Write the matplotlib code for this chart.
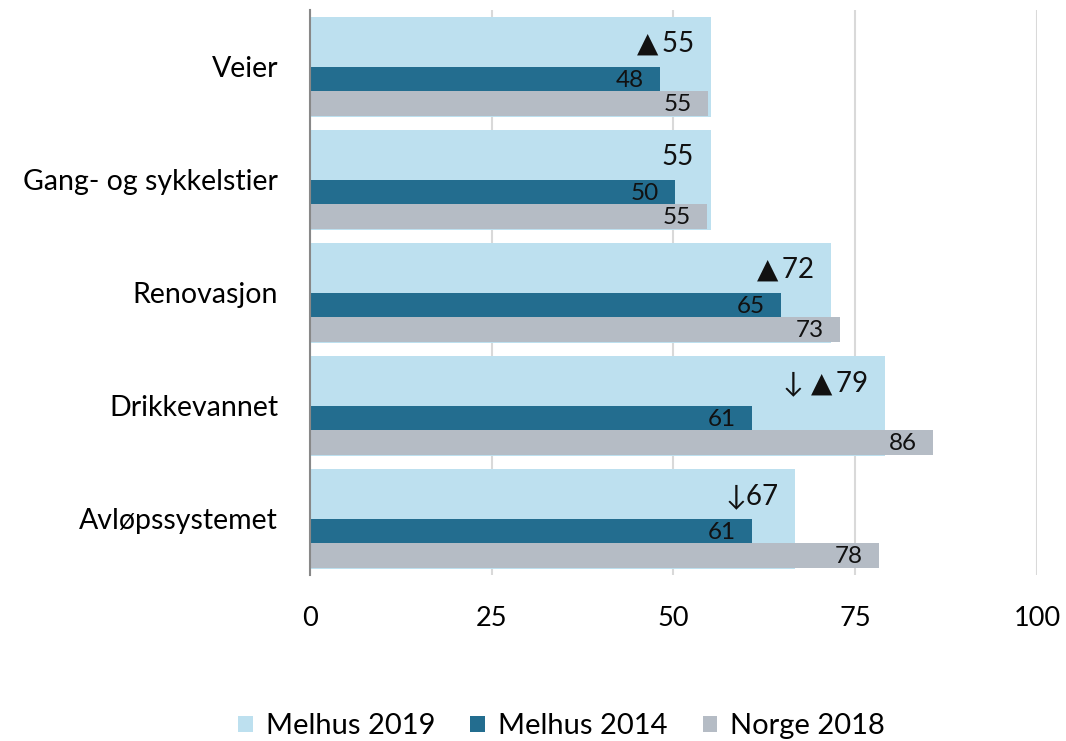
import matplotlib.pyplot as plt
import numpy as np

plt.rcParams['font.family'] = ['Lato', 'DejaVu Sans']

categories = ['Veier', 'Gang- og sykkelstier', 'Renovasjon', 'Drikkevannet', 'Avløpssystemet']
melhus_2019 = [55.2, 55.1, 71.6, 79.1, 66.7]
melhus_2014 = [48.1, 50.2, 64.8, 60.8, 60.8]
norge_2018 = [54.8, 54.6, 72.9, 85.7, 78.3]
markers_2019 = ['▲\u2009', '', '▲\u2009', '↓ ▲\u2009', '↓']

c_light = '#bde0ef'
c_dark = '#236d8f'
c_gray = '#b5bcc5'

fig = plt.figure(figsize=(10.66, 7.41), dpi=100)
ax = fig.add_axes([0.2908, 0.224, 0.682, 0.7625])

y = np.arange(len(categories))
ax.barh(y, melhus_2019, height=0.885, color=c_light, label='Melhus 2019', zorder=2)
ax.barh(y + 0.1105, melhus_2014, height=0.221, color=c_dark, label='Melhus 2014', zorder=3)
ax.barh(y + 0.3315, norge_2018, height=0.221, color=c_gray, label='Norge 2018', zorder=3)

for i in range(len(categories)):
    ax.text(melhus_2019[i] - 2.3, y[i] - 0.2, f"{markers_2019[i]}{round(melhus_2019[i])}",
            ha='right', va='center', fontsize=20, color='#111111', zorder=4)
    ax.text(melhus_2014[i] - 2.2, y[i] + 0.12, f"{round(melhus_2014[i])}",
            ha='right', va='center', fontsize=17.5, color='#111111', zorder=4)
    ax.text(norge_2018[i] - 2.2, y[i] + 0.34, f"{round(norge_2018[i])}",
            ha='right', va='center', fontsize=17.5, color='#111111', zorder=4)

ax.set_xlim(0, 100)
ax.set_ylim(4.5, -0.5)
ax.set_yticks(y)
ax.set_yticklabels(categories, fontsize=20.5)
ax.set_xticks([0, 25, 50, 75, 100])
ax.tick_params(axis='x', labelsize=19.5, length=0, pad=22)
ax.tick_params(axis='y', length=0, pad=23)
ax.grid(axis='x', color='#d9d9d9', linewidth=1.5, zorder=0)
for s in ['top', 'right', 'bottom']:
    ax.spines[s].set_visible(False)
ax.spines['left'].set_color('#888888')
ax.spines['left'].set_linewidth(1.5)
ax.spines['left'].set_zorder(5)

fig.legend(loc='lower center', bbox_to_anchor=(0.527, -0.033), ncol=3, frameon=False,
           fontsize=21, handlelength=0.5, handleheight=0.5, columnspacing=1.2, handletextpad=0.45)

fig.savefig('out.png', dpi=100)
